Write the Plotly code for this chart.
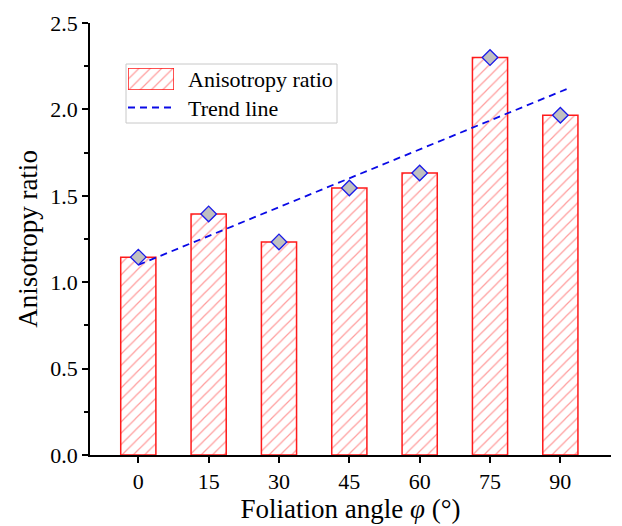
import plotly.graph_objects as go

angles = [0, 15, 30, 45, 60, 75, 90]
ratio = [1.145, 1.395, 1.233, 1.545, 1.632, 2.30, 1.966]
trend_x = [0, 92]
trend_y = [1.10, 2.125]
x_ticks = [0, 15, 30, 45, 60, 75, 90]
y_ticks = [0.0, 0.5, 1.0, 1.5, 2.0, 2.5]
legend_labels = ["Anisotropy ratio", "Trend line"]

FONT = "Liberation Serif"
W, H = 622, 526
L, R, T, B = 90, 11, 23, 71
PW, PH = W - L - R, H - T - B


def px(x):
    return (x - L) / PW


def py(y):
    return (H - B - y) / PH


BAR_MARKER = dict(color="rgba(0,0,0,0)",
                  line=dict(color="#ff1a1a", width=1.5),
                  pattern=dict(shape="/", fgcolor="#ff3a3a", bgcolor="white", size=8, solidity=0.15))
TREND_LINE = dict(color="#0a0ae6", width=1.8, dash="7px,5px")

fig = go.Figure()
fig.add_trace(go.Bar(x=angles, y=ratio, width=7.5, name=legend_labels[0],
                     marker=BAR_MARKER, showlegend=False))
fig.add_trace(go.Scatter(x=trend_x, y=trend_y, mode="lines", name=legend_labels[1],
                         line=TREND_LINE, showlegend=False))
fig.add_trace(go.Scatter(x=angles, y=ratio, mode="markers", showlegend=False,
                         marker=dict(symbol="diamond", size=12, color="#c0c0c0",
                                     line=dict(color="#1a1ae8", width=1.3))))

# legend swatch (hatched rectangle) drawn on a small inset axis
fig.add_trace(go.Bar(x=[0], y=[1], width=[1], marker=BAR_MARKER, showlegend=False,
                     xaxis="x2", yaxis="y2", hoverinfo="skip"))

fig.update_layout(
    width=W, height=H,
    margin=dict(l=L, r=R, t=T, b=B),
    plot_bgcolor="white", paper_bgcolor="white",
    font=dict(family=FONT, color="black", size=22),
    showlegend=False,
    xaxis=dict(
        domain=[0, 1], anchor="y",
        range=[-10.3, 100.8], tickvals=x_ticks, ticktext=[str(v) for v in x_ticks],
        showgrid=False, zeroline=False, showline=True, linecolor="black", linewidth=1.5,
        ticks="outside", ticklen=6, tickwidth=1.5, tickcolor="black",
        tickfont=dict(family=FONT, size=22), automargin=False,
        title=dict(text="Foliation angle <i>φ</i> (°)", font=dict(family=FONT, size=27), standoff=6),
    ),
    yaxis=dict(
        domain=[0, 1], anchor="x",
        range=[0, 2.5], tickvals=y_ticks, ticktext=[f"{v:.1f}" for v in y_ticks],
        showgrid=False, zeroline=False, showline=True, linecolor="black", linewidth=1.5,
        ticks="outside", ticklen=6, tickwidth=1.5, tickcolor="black",
        minor=dict(tickvals=[0.25, 0.75, 1.25, 1.75, 2.25], ticks="outside", ticklen=4,
                   tickwidth=1.5, tickcolor="black"),
        tickfont=dict(family=FONT, size=22), automargin=False,
        title=dict(text="Anisotropy ratio", font=dict(family=FONT, size=27), standoff=5),
    ),
    xaxis2=dict(domain=[px(128), px(174)], range=[-0.5, 0.5], anchor="y2",
                visible=False, fixedrange=True),
    yaxis2=dict(domain=[py(90), py(68)], range=[0, 1], anchor="x2",
                visible=False, fixedrange=True),
    shapes=[
        dict(type="rect", xref="paper", yref="paper",
             x0=px(126), x1=px(337), y0=py(123), y1=py(64),
             line=dict(color="#c8c8c8", width=1), fillcolor="rgba(0,0,0,0)", layer="below"),
        dict(type="line", xref="paper", yref="paper",
             x0=px(128), x1=px(175), y0=py(107.5), y1=py(107.5),
             line=TREND_LINE),
    ],
    annotations=[
        dict(text=legend_labels[0], xref="paper", yref="paper", x=px(186), y=py(80),
             xanchor="left", yanchor="middle", showarrow=False,
             font=dict(family=FONT, size=22)),
        dict(text=legend_labels[1], xref="paper", yref="paper", x=px(186), y=py(108),
             xanchor="left", yanchor="middle", showarrow=False,
             font=dict(family=FONT, size=22)),
    ],
)

fig.write_html("out.html")
